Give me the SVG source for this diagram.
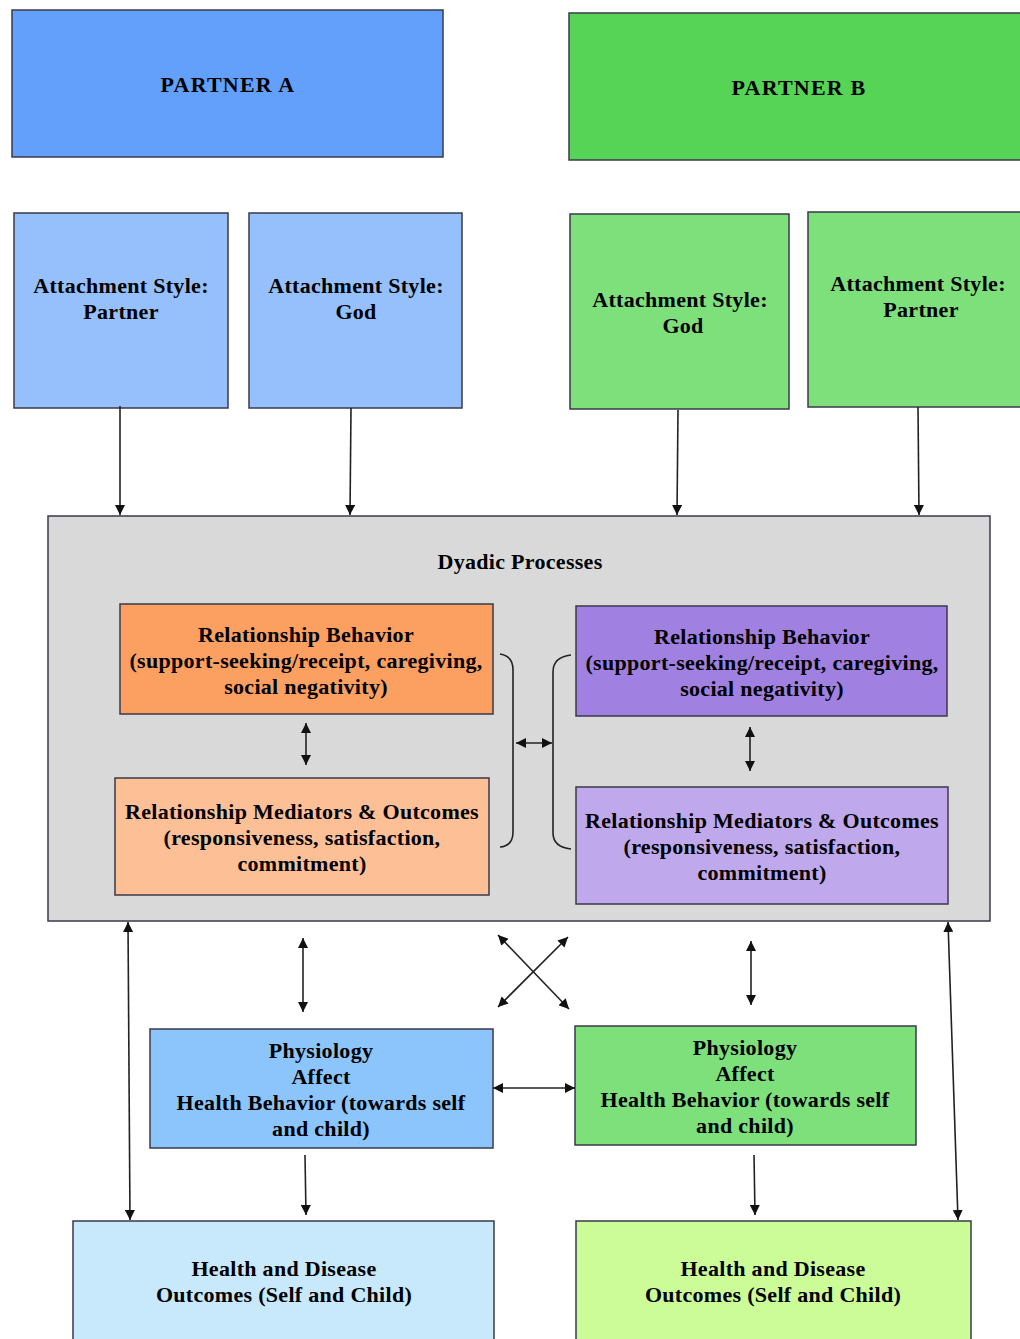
<svg xmlns="http://www.w3.org/2000/svg" width="1020" height="1339" viewBox="0 0 1020 1339">
<defs>
<marker id="ah" viewBox="0 0 10 10" refX="10" refY="5" markerWidth="10" markerHeight="10" markerUnits="userSpaceOnUse" orient="auto-start-reverse">
<path d="M0,0 L10,5 L0,10 z" fill="#111"/>
</marker>
<style>
.box{stroke:#3a3a4a;stroke-width:1.5}
.t{font-family:"Liberation Serif","Times New Roman",serif;font-weight:bold;font-size:22px;letter-spacing:0.3px;fill:#000;text-anchor:middle}
.a{stroke:#222;stroke-width:1.6;fill:none}
</style>
</defs>
<rect width="1020" height="1339" fill="#fff"/>
<g id="partnerA"><rect class="box" x="12" y="10" width="431" height="147" fill="#63a0fc"/><text class="t" x="228" y="92" style="letter-spacing:1.2px">PARTNER A</text></g>
<g id="partnerB"><rect class="box" x="569" y="13" width="460" height="147" fill="#55d455"/><text class="t" x="799" y="95" style="letter-spacing:1.2px">PARTNER B</text></g>
<g id="attA1"><rect class="box" x="14" y="213" width="214" height="195" fill="#96c0fc"/><text class="t" x="121" y="293">Attachment Style:</text><text class="t" x="121" y="319">Partner</text></g>
<g id="attA2"><rect class="box" x="249" y="213" width="213" height="195" fill="#96c0fc"/><text class="t" x="356" y="293">Attachment Style:</text><text class="t" x="356" y="319">God</text></g>
<g id="attB1"><rect class="box" x="570" y="214" width="219" height="195" fill="#7ee07a"/><text class="t" x="680" y="307">Attachment Style:</text><text class="t" x="683" y="333">God</text></g>
<g id="attB2"><rect class="box" x="808" y="212" width="220" height="195" fill="#7ee07a"/><text class="t" x="918" y="291">Attachment Style:</text><text class="t" x="921" y="317">Partner</text></g>
<g id="dyadic"><rect class="box" x="48" y="516" width="942" height="405" fill="#d9d9d9"/><text class="t" x="520" y="569">Dyadic Processes</text></g>
<g id="relBehA"><rect class="box" x="120" y="604" width="373" height="110" fill="#fba060"/><text class="t" x="306" y="642">Relationship Behavior</text><text class="t" x="306" y="668">(support-seeking/receipt, caregiving,</text><text class="t" x="306" y="694">social negativity)</text></g>
<g id="relMedA"><rect class="box" x="115" y="778" width="374" height="117" fill="#fdbf96"/><text class="t" x="302" y="819">Relationship Mediators &amp; Outcomes</text><text class="t" x="302" y="845">(responsiveness, satisfaction,</text><text class="t" x="302" y="871">commitment)</text></g>
<g id="relBehB"><rect class="box" x="576" y="606" width="371" height="110" fill="#a080e0"/><text class="t" x="762" y="644">Relationship Behavior</text><text class="t" x="762" y="670">(support-seeking/receipt, caregiving,</text><text class="t" x="762" y="696">social negativity)</text></g>
<g id="relMedB"><rect class="box" x="576" y="787" width="372" height="117" fill="#c0a8ec"/><text class="t" x="762" y="828">Relationship Mediators &amp; Outcomes</text><text class="t" x="762" y="854">(responsiveness, satisfaction,</text><text class="t" x="762" y="880">commitment)</text></g>
<g id="physA"><rect class="box" x="150" y="1029" width="343" height="119" fill="#8cc4fc"/><text class="t" x="321" y="1058">Physiology</text><text class="t" x="321" y="1084">Affect</text><text class="t" x="321" y="1110">Health Behavior (towards self</text><text class="t" x="321" y="1136">and child)</text></g>
<g id="physB"><rect class="box" x="575" y="1026" width="341" height="119" fill="#7ee07a"/><text class="t" x="745" y="1055">Physiology</text><text class="t" x="745" y="1081">Affect</text><text class="t" x="745" y="1107">Health Behavior (towards self</text><text class="t" x="745" y="1133">and child)</text></g>
<g id="healthA"><rect class="box" x="73" y="1221" width="421" height="130" fill="#c8e8fc"/><text class="t" x="284" y="1276">Health and Disease</text><text class="t" x="284" y="1302">Outcomes (Self and Child)</text></g>
<g id="healthB"><rect class="box" x="576" y="1221" width="395" height="130" fill="#ccfc98"/><text class="t" x="773" y="1276">Health and Disease</text><text class="t" x="773" y="1302">Outcomes (Self and Child)</text></g>
<g id="connectors">
<line class="a" x1="120" y1="406" x2="120" y2="515" marker-end="url(#ah)"/>
<line class="a" x1="351" y1="408" x2="350" y2="515" marker-end="url(#ah)"/>
<line class="a" x1="678" y1="410" x2="677" y2="515" marker-end="url(#ah)"/>
<line class="a" x1="918" y1="407" x2="919" y2="515" marker-end="url(#ah)"/>
<line class="a" x1="306" y1="723" x2="306" y2="765" marker-start="url(#ah)" marker-end="url(#ah)"/>
<line class="a" x1="750" y1="727" x2="750" y2="771" marker-start="url(#ah)" marker-end="url(#ah)"/>
<line class="a" x1="516" y1="743" x2="552" y2="743" marker-start="url(#ah)" marker-end="url(#ah)"/>
<path class="a" d="M500,654 Q513,656 513,670 L513,832 Q513,846 500,847" stroke-width="2" stroke="#333"/>
<path class="a" d="M571,655 Q553,657 553,672 L553,833 Q553,847 571,849" stroke-width="2" stroke="#333"/>
<line class="a" x1="303" y1="938" x2="303" y2="1012" marker-start="url(#ah)" marker-end="url(#ah)"/>
<line class="a" x1="751" y1="941" x2="751" y2="1005" marker-start="url(#ah)" marker-end="url(#ah)"/>
<line class="a" x1="498" y1="935" x2="569" y2="1009" marker-start="url(#ah)" marker-end="url(#ah)"/>
<line class="a" x1="568" y1="937" x2="498" y2="1007" marker-start="url(#ah)" marker-end="url(#ah)"/>
<line class="a" x1="128" y1="922" x2="130" y2="1220" marker-start="url(#ah)" marker-end="url(#ah)"/>
<line class="a" x1="948" y1="922" x2="958" y2="1220" marker-start="url(#ah)" marker-end="url(#ah)"/>
<line class="a" x1="493" y1="1088" x2="575" y2="1088" marker-start="url(#ah)" marker-end="url(#ah)"/>
<line class="a" x1="305" y1="1155" x2="306" y2="1215" marker-end="url(#ah)"/>
<line class="a" x1="754" y1="1155" x2="755" y2="1215" marker-end="url(#ah)"/>
</g>
</svg>
